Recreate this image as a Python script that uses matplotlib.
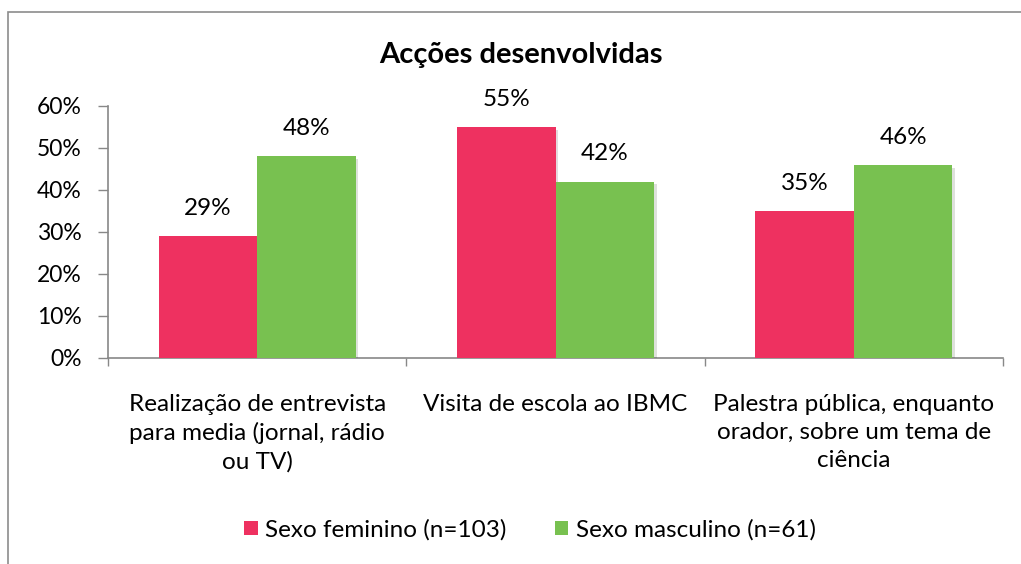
import matplotlib
matplotlib.use("Agg")
import matplotlib.pyplot as plt
import matplotlib.patheffects as pe
from matplotlib.patches import Rectangle
import numpy as np

categories = ["Realização de entrevista\npara media (jornal, rádio\nou TV)",
              "Visita de escola ao IBMC",
              "Palestra pública, enquanto\norador, sobre um tema de\nciência"]
feminino = [29, 55, 35]
masculino = [48, 42, 46]
series_labels = ["Sexo feminino (n=103)", "Sexo masculino (n=61)"]
yticks = [0, 10, 20, 30, 40, 50, 60]
title = "Acções desenvolvidas"

pink = "#EE3160"
green = "#78C150"

plt.rcParams['font.family'] = ['Lato', 'DejaVu Sans']

W, H = 1021, 564
fig = plt.figure(figsize=(W/100, H/100), dpi=100)

# outer chart frame
fig.patches.append(Rectangle((8/W, -0.1), 1.2, (H-12)/H + 0.1, transform=fig.transFigure,
                             fill=False, edgecolor="#8c8c8c", linewidth=1.2))

ax = fig.add_axes([108/W, 1-358/H, (1003-108)/W, (358-106)/H])
x = np.arange(len(categories))
bw = 0.33
shadow = [pe.SimplePatchShadow(offset=(2, -2), alpha=0.15), pe.Normal()]
b1 = ax.bar(x - bw/2, feminino, bw, color=pink, label=series_labels[0], path_effects=shadow, zorder=3)
b2 = ax.bar(x + bw/2, masculino, bw, color=green, label=series_labels[1], path_effects=shadow, zorder=3)

for bars, vals in ((b1, feminino), (b2, masculino)):
    for r, v in zip(bars, vals):
        ax.text(r.get_x() + r.get_width()/2, v + 6.6, f"{v}%", ha="center", va="center",
                fontsize=17.5, color="black")

ax.set_xlim(-0.5, len(categories) - 0.5)
ax.set_ylim(0, 60)
ax.set_yticks(yticks)
ax.set_yticklabels([f"{t}%" for t in yticks], fontsize=16.5)
ax.tick_params(axis='y', length=7, width=1, color="#888888", pad=12)
ax.set_xticks([-0.5, 0.5, 1.5, 2.5])
ax.set_xticklabels([])
ax.tick_params(axis='x', length=6, width=1, color="#888888")
for i, c in enumerate(categories):
    ax.text(i, -8.6, c, ha="center", va="top", fontsize=17.5, linespacing=1.4)

for s in ["top", "right"]:
    ax.spines[s].set_visible(False)
for s in ["left", "bottom"]:
    ax.spines[s].set_color("#888888")
    ax.spines[s].set_linewidth(1.2)

fig.text(521/W, 1-55/H, title, ha="center", va="center", fontsize=21, fontweight="bold")

leg = fig.legend(handles=[b1, b2], labels=series_labels, loc="center",
                 bbox_to_anchor=(530/W, 1-530/H), ncol=2, frameon=False, fontsize=17.5,
                 handlelength=0.55, handleheight=0.55, handletextpad=0.3, columnspacing=2.0)
for h in leg.legend_handles:
    h.set_path_effects([])

fig.savefig("out.png", dpi=100)
